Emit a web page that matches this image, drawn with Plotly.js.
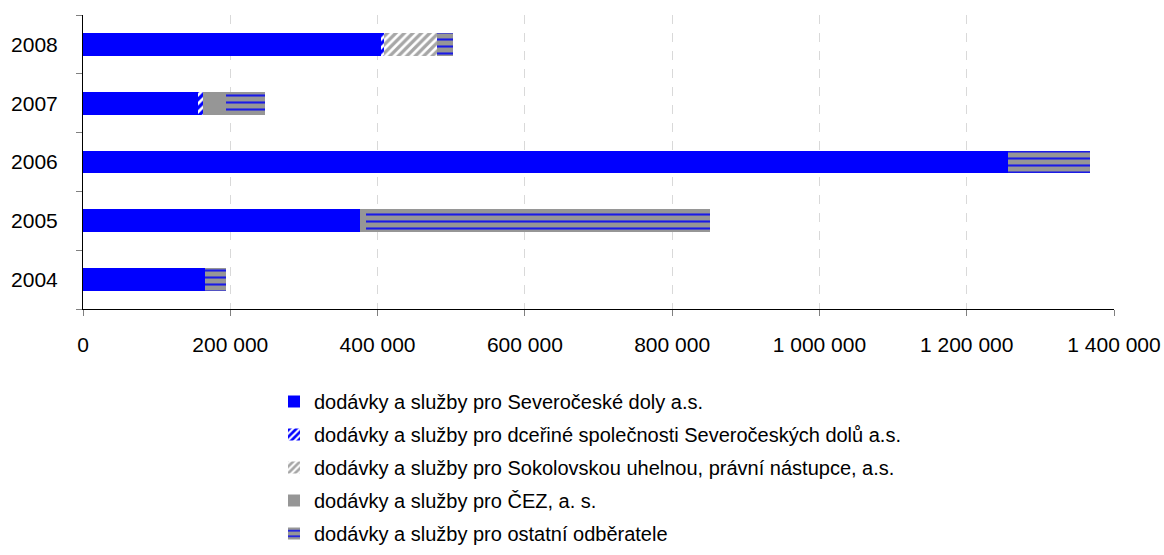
<!DOCTYPE html>
<html>
<head>
<meta charset="utf-8">
<script src="https://cdn.plot.ly/plotly-3.0.1.min.js"></script>
<style>html,body{margin:0;padding:0;background:#fff;}#chart{width:1164px;height:555px;}</style>
</head>
<body>
<div id="chart"></div>
<script>
const years = ['2004', '2005', '2006', '2007', '2008'];
const severoceskeDoly = [165600, 376100, 1256200, 155700, 404600];
const dcerineSpolecnosti = [0, 0, 0, 7200, 4100];
const sokolovska = [0, 0, 0, 0, 71500];
const cez = [0, 8100, 0, 30800, 0];
const ostatni = [28100, 467000, 110900, 53400, 22500];
const seriesNames = [
  'dodávky a služby pro Severočeské doly a.s.',
  'dodávky a služby pro dceřiné společnosti Severočeských dolů a.s.',
  'dodávky a služby pro Sokolovskou uhelnou, právní nástupce, a.s.',
  'dodávky a služby pro ČEZ, a. s.',
  'dodávky a služby pro ostatní odběratele'
];
const xTickVals = [0, 200000, 400000, 600000, 800000, 1000000, 1200000, 1400000];
const xTickText = ['0', '200 000', '400 000', '600 000', '800 000', '1 000 000', '1 200 000', '1 400 000'];

const values = [severoceskeDoly, dcerineSpolecnosti, sokolovska, cez, ostatni];
const markers = [
  {color: '#0000FF', line: {width: 0}},
  {color: '#0000FF', line: {width: 0}, pattern: {shape: '/', bgcolor: '#0000FF', fgcolor: '#FFFFFF', size: 6, solidity: 0.45, fillmode: 'replace'}},
  {color: '#FFFFFF', line: {width: 0}, pattern: {shape: '/', bgcolor: '#FFFFFF', fgcolor: '#A6A6A6', size: 6, solidity: 0.55, fillmode: 'replace'}},
  {color: '#969696', line: {width: 0}},
  {color: '#969696', line: {width: 0}, pattern: {shape: '-', bgcolor: '#969696', fgcolor: '#1A1AE6', size: 7, solidity: 0.3, fillmode: 'replace'}}
];

const data = values.map((v, i) => ({
  type: 'bar',
  orientation: 'h',
  y: years,
  x: v,
  name: seriesNames[i],
  legendgroup: 'g' + i,
  marker: markers[i],
  hoverinfo: 'skip'
}));

const layout = {
  width: 1164,
  height: 555,
  margin: {l: 83, r: 50, t: 15, b: 246, autoexpand: false},
  paper_bgcolor: '#FFFFFF',
  plot_bgcolor: '#FFFFFF',
  barmode: 'stack',
  bargap: 0.615,
  font: {family: '"Liberation Sans", Arial, sans-serif', color: '#000000'},
  xaxis: {
    range: [0, 1400000],
    tickvals: xTickVals,
    ticktext: xTickText,
    tickangle: 0,
    ticks: 'outside',
    ticklen: 6,
    tickcolor: '#808080',
    showline: true,
    linecolor: '#000000',
    linewidth: 1,
    showgrid: true,
    gridcolor: '#D9D9D9',
    griddash: 'dash',
    gridwidth: 1,
    zeroline: false,
    tickfont: {size: 21, color: '#000000'},
    ticklabelstandoff: 11,
    automargin: false,
    fixedrange: true
  },
  yaxis: {
    type: 'category',
    categoryorder: 'array',
    categoryarray: years,
    tickson: 'boundaries',
    ticks: 'outside',
    ticklen: 6,
    tickcolor: '#808080',
    showline: true,
    linecolor: '#000000',
    linewidth: 1,
    showgrid: false,
    zeroline: false,
    tickfont: {size: 21, color: '#000000'},
    ticklabelstandoff: 20,
    automargin: false,
    fixedrange: true
  },
  showlegend: true,
  legend: {
    xref: 'container',
    yref: 'container',
    x: 274 / 1164,
    y: 1 - 382 / 555,
    xanchor: 'left',
    yanchor: 'top',
    traceorder: 'grouped',
    tracegroupgap: 4,
    font: {size: 20, color: '#000000'},
    bgcolor: 'rgba(0,0,0,0)'
  }
};

Plotly.newPlot('chart', data, layout, {displayModeBar: false, staticPlot: true});
</script>
</body>
</html>
